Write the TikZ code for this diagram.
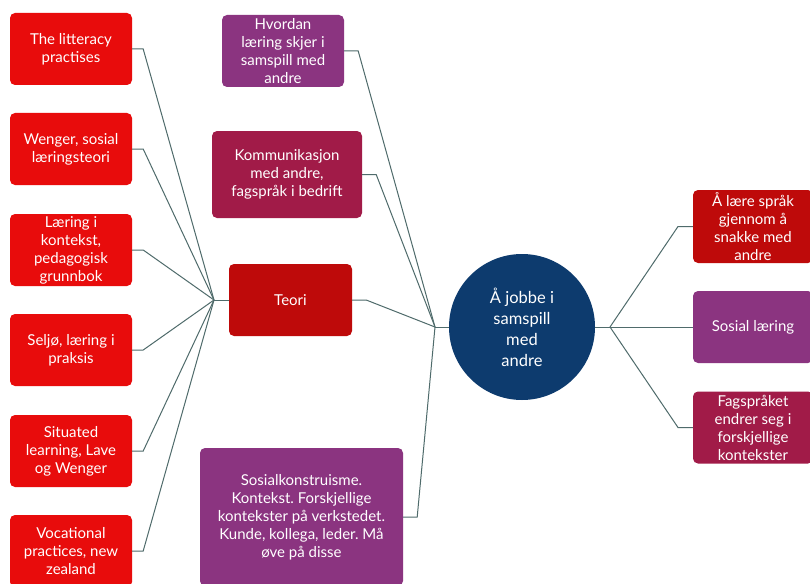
\documentclass[tikz,border=0pt]{standalone}
\usepackage{fontspec}
\setmainfont{Lato}
\frenchspacing
\definecolor{lred}{HTML}{E80C0C}
\definecolor{dred}{HTML}{BE0A0A}
\definecolor{purp}{HTML}{8B3480}
\definecolor{crim}{HTML}{A11B48}
\definecolor{navy}{HTML}{0D3B6E}
\definecolor{conn}{HTML}{4F6B6B}
\begin{document}
\begin{tikzpicture}[x=1pt,y=-1pt,
  box/.style={rectangle, rounded corners=5pt, text=white, align=center,
    font=\fontsize{15}{18}\selectfont, inner sep=0pt},
  leftbox/.style={box, fill=lred, minimum width=122pt, minimum height=72pt},
  link/.style={draw=conn, line width=1pt}]
\useasboundingbox (0,0) rectangle (810,583);
\clip (0,0) rectangle (810,583);
\fill[white] (0,0) rectangle (810,583);
% left boxes
\node[leftbox] (b1) at (71,49) {The litteracy\\practises};
\node[leftbox] (b2) at (71,149) {Wenger, sosial\\læringsteori};
\node[leftbox] (b3) at (71,250) {Læring i\\kontekst,\\pedagogisk\\grunnbok};
\node[leftbox] (b4) at (71,350) {Seljø, læring i\\praksis};
\node[leftbox] (b5) at (71,451) {Situated\\learning, Lave\\og Wenger};
\node[leftbox] (b6) at (71,551) {Vocational\\practices, new\\zealand};
% middle
\node[box, fill=dred, minimum width=123pt, minimum height=72pt] (teori) at (290.5,300) {Teori};
\node[box, fill=purp, minimum width=122pt, minimum height=72pt] (hv) at (283,51) {Hvordan\\læring skjer i\\samspill med\\andre};
\node[box, fill=crim, minimum width=150pt, minimum height=87pt] (kom) at (287,174.5) {Kommunikasjon\\med andre,\\fagspråk i bedrift};
\node[box, fill=purp, minimum width=203pt, minimum height=138pt] (sos) at (301.5,517) {Sosialkonstruisme.\\Kontekst. Forskjellige\\kontekster på verkstedet.\\Kunde, kollega, leder. Må\\øve på disse};
% centre
\node[circle, fill=navy, minimum size=146pt, inner sep=0pt, text=white, align=center,
  font=\fontsize{16.5}{21}\selectfont] (c) at (522,327) {Å jobbe i\\samspill\\med\\andre};
% right
\node[box, fill=dred, minimum width=120pt, minimum height=73pt] (r1) at (753,226.5) {Å lære språk\\gjennom å\\snakke med\\andre};
\node[box, fill=purp, minimum width=120pt, minimum height=72pt] (r2) at (753,327) {Sosial læring};
\node[box, fill=crim, minimum width=120pt, minimum height=72pt] (r3) at (753,427.5) {Fagspråket\\endrer seg i\\forskjellige\\kontekster};
% junctions
\coordinate (j1) at (214,300);
\coordinate (j2) at (435,327);
\coordinate (j3) at (610,327);
\coordinate (k1) at (678,226.5);
\coordinate (k3) at (678,427.5);
% connectors
\foreach \b in {b1,b2,b3,b4,b5,b6}
  \draw[link] (\b.east) -- ++(11,0) -- (j1);
\draw[link] (j1) -- (teori.west);
\foreach \b in {teori,hv,kom,sos}
  \draw[link] (\b.east) -- ++(14,0) -- (j2);
\draw[link] (j2) -- (c.west);
\draw[link] (c.east) -- (j3);
\draw[link] (j3) -- (k1) -- (r1.west);
\draw[link] (j3) -- (r2.west);
\draw[link] (j3) -- (k3) -- (r3.west);
\end{tikzpicture}
\end{document}
